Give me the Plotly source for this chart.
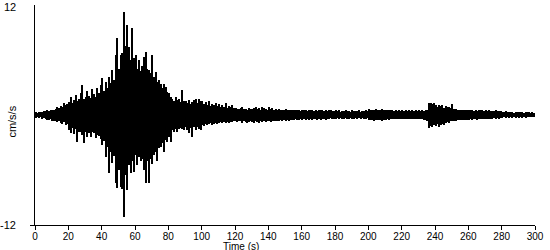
import plotly.graph_objects as go

# Start of each one-second column (s) and its width
time_start = 0
time_step = 1

# Per-second maximum acceleration (cm/s/s)
upper_0_19 = [0.3, 0.2, 0.3, 0.3, 0.3, 0.4, 0.4, 0.5, 0.4, 0.6, 0.6, 0.5, 0.7, 0.9, 0.8, 1.0, 0.9, 1.3, 1.1, 1.2]
upper_20_39 = [1.4, 2.0, 1.3, 1.6, 2.2, 1.5, 1.8, 2.4, 3.3, 1.7, 2.0, 2.6, 2.1, 1.9, 2.8, 2.3, 2.0, 3.0, 2.4, 3.3]
upper_40_59 = [4.0, 2.6, 3.6, 3.0, 4.2, 3.5, 4.9, 3.8, 6.5, 8.4, 5.0, 6.5, 6.8, 11.2, 7.5, 9.8, 7.4, 6.0, 9.5, 6.2]
upper_60_79 = [6.5, 5.0, 6.0, 4.8, 5.3, 6.3, 6.9, 5.0, 4.9, 4.6, 6.5, 4.2, 4.7, 3.6, 3.8, 3.4, 2.9, 3.4, 3.1, 2.5]
upper_80_99 = [2.4, 2.0, 1.8, 1.5, 2.0, 1.6, 1.7, 1.4, 2.7, 1.5, 1.5, 1.3, 1.6, 1.2, 1.4, 1.6, 1.8, 1.3, 1.8, 1.5]
upper_100_119 = [1.5, 1.2, 1.4, 1.1, 1.5, 1.0, 1.2, 1.1, 1.3, 1.0, 1.2, 0.9, 1.1, 0.9, 1.3, 0.8, 1.0, 0.9, 1.1, 0.8]
upper_120_139 = [0.8, 0.7, 0.7, 0.8, 0.9, 0.7, 0.7, 0.6, 0.8, 0.7, 0.7, 0.8, 0.9, 0.7, 0.8, 0.6, 0.9, 0.8, 0.7, 0.6]
upper_140_159 = [0.9, 0.7, 0.8, 0.6, 0.7, 0.6, 0.7, 0.5, 0.6, 0.6, 0.7, 0.5, 0.6, 0.5, 0.5, 0.6, 0.6, 0.5, 0.5, 0.4]
upper_160_179 = [0.6, 0.5, 0.5, 0.4, 0.6, 0.5, 0.6, 0.4, 0.5, 0.4, 0.6, 0.5, 0.5, 0.4, 0.5, 0.4, 0.5, 0.5, 0.4, 0.4]
upper_180_199 = [0.5, 0.4, 0.5, 0.3, 0.4, 0.4, 0.5, 0.4, 0.4, 0.3, 0.5, 0.4, 0.4, 0.4, 0.5, 0.3, 0.4, 0.4, 0.5, 0.4]
upper_200_219 = [0.7, 0.5, 0.6, 0.5, 0.7, 0.5, 0.6, 0.5, 0.7, 0.5, 0.6, 0.5, 0.6, 0.5, 0.55, 0.45, 0.5, 0.45, 0.55, 0.4]
upper_220_239 = [0.5, 0.45, 0.55, 0.4, 0.5, 0.45, 0.5, 0.4, 0.55, 0.45, 0.5, 0.4, 0.5, 0.45, 0.6, 0.5, 1.3, 1.3, 1.2, 1.3]
upper_240_259 = [1.1, 0.9, 1.1, 1.0, 1.1, 0.8, 1.0, 0.9, 0.9, 0.8, 1.2, 0.7, 0.7, 0.6, 0.55, 0.5, 0.6, 0.5, 0.55, 0.5]
upper_260_279 = [0.55, 0.5, 0.5, 0.45, 0.55, 0.45, 0.5, 0.5, 0.55, 0.45, 0.5, 0.4, 0.5, 0.45, 0.45, 0.4, 0.5, 0.45, 0.45, 0.4]
upper_280_299 = [0.35, 0.3, 0.4, 0.3, 0.35, 0.3, 0.35, 0.25, 0.3, 0.3, 0.35, 0.3, 0.3, 0.25, 0.35, 0.3, 0.3, 0.25, 0.3, 0.2]

# Per-second minimum acceleration (cm/s/s)
lower_0_19 = [-0.3, -0.2, -0.3, -0.2, -0.4, -0.3, -0.4, -0.5, -0.5, -0.4, -0.6, -0.7, -0.6, -0.8, -0.6, -0.9, -1.0, -0.8, -1.1, -1.0]
lower_20_39 = [-1.6, -2.0, -1.4, -2.1, -1.5, -2.9, -1.8, -1.9, -2.2, -3.0, -1.8, -2.4, -2.0, -2.4, -1.9, -2.0, -2.5, -2.2, -2.3, -2.6]
lower_40_59 = [-3.3, -2.8, -4.6, -3.5, -6.3, -4.0, -5.2, -4.5, -7.4, -8.0, -6.0, -7.8, -8.1, -11.1, -6.5, -8.2, -5.5, -6.3, -5.0, -6.2]
lower_60_79 = [-4.4, -5.5, -4.6, -5.0, -4.8, -6.0, -7.4, -5.0, -7.4, -4.8, -5.3, -4.4, -4.0, -5.0, -3.6, -3.5, -3.0, -4.0, -2.7, -2.9]
lower_80_99 = [-2.4, -2.9, -1.6, -1.8, -1.5, -1.8, -1.5, -1.4, -1.5, -1.6, -1.3, -1.6, -2.0, -1.4, -2.4, -1.3, -1.6, -1.3, -1.5, -1.6]
lower_100_119 = [-1.1, -1.2, -1.0, -1.1, -1.0, -0.9, -1.1, -1.0, -0.9, -1.0, -0.9, -0.8, -0.9, -0.8, -0.9, -0.8, -0.9, -0.8, -0.8, -0.7]
lower_120_139 = [-0.7, -0.8, -0.7, -0.7, -0.9, -0.7, -0.8, -0.9, -0.8, -0.7, -0.8, -0.9, -0.7, -0.8, -0.9, -0.7, -0.8, -0.7, -0.8, -0.7]
lower_140_159 = [-0.7, -0.8, -0.6, -0.7, -0.6, -0.7, -0.6, -0.5, -0.6, -0.5, -0.6, -0.5, -0.6, -0.5, -0.5, -0.5, -0.4, -0.5, -0.5, -0.4]
lower_160_179 = [-0.5, -0.4, -0.5, -0.4, -0.5, -0.4, -0.5, -0.4, -0.4, -0.5, -0.4, -0.5, -0.4, -0.4, -0.5, -0.4, -0.4, -0.3, -0.4, -0.4]
lower_180_199 = [-0.4, -0.3, -0.4, -0.3, -0.4, -0.4, -0.3, -0.4, -0.4, -0.3, -0.4, -0.4, -0.3, -0.4, -0.3, -0.4, -0.3, -0.4, -0.4, -0.3]
lower_200_219 = [-0.5, -0.55, -0.5, -0.6, -0.5, -0.5, -0.55, -0.5, -0.6, -0.5, -0.5, -0.45, -0.5, -0.45, -0.45, -0.4, -0.45, -0.4, -0.45, -0.4]
lower_220_239 = [-0.45, -0.4, -0.45, -0.4, -0.45, -0.4, -0.45, -0.4, -0.45, -0.4, -0.45, -0.4, -0.45, -0.5, -0.5, -0.6, -1.45, -1.2, -1.3, -1.1]
lower_240_259 = [-1.2, -1.0, -1.3, -1.1, -1.0, -1.1, -0.9, -0.8, -0.9, -0.7, -0.7, -0.6, -0.6, -0.55, -0.55, -0.5, -0.55, -0.5, -0.55, -0.5]
lower_260_279 = [-0.5, -0.45, -0.5, -0.45, -0.45, -0.5, -0.45, -0.4, -0.45, -0.4, -0.45, -0.4, -0.45, -0.4, -0.4, -0.35, -0.4, -0.35, -0.4, -0.35]
lower_280_299 = [-0.3, -0.25, -0.3, -0.25, -0.3, -0.25, -0.3, -0.25, -0.3, -0.25, -0.3, -0.25, -0.3, -0.25, -0.3, -0.25, -0.25, -0.2, -0.25, -0.2]

x_ticks = [0, 20, 40, 60, 80, 100, 120, 140, 160, 180, 200, 220, 240, 260, 280, 300]
y_range = [-12, 12]
y_tick_labels = ["12", "-12"]
x_title = "Time (s)"
y_title = "cm/s/s"

upper = (upper_0_19 + upper_20_39 + upper_40_59 + upper_60_79 + upper_80_99 +
         upper_100_119 + upper_120_139 + upper_140_159 + upper_160_179 +
         upper_180_199 + upper_200_219 + upper_220_239 + upper_240_259 +
         upper_260_279 + upper_280_299)
lower = (lower_0_19 + lower_20_39 + lower_40_59 + lower_60_79 + lower_80_99 +
         lower_100_119 + lower_120_139 + lower_140_159 + lower_160_179 +
         lower_180_199 + lower_200_219 + lower_220_239 + lower_240_259 +
         lower_260_279 + lower_280_299)
centers = [time_start + (i + 0.5) * time_step for i in range(len(upper))]
spans = [u - l for u, l in zip(upper, lower)]

font = dict(family="Liberation Sans, Arial, sans-serif", size=11, color="black")
small_font = dict(family="Liberation Sans, Arial, sans-serif", size=10, color="black")

fig = go.Figure()
fig.add_trace(go.Bar(x=centers, y=spans, base=lower, width=time_step,
                     marker=dict(color="black", line=dict(width=0)),
                     hoverinfo="skip"))

fig.update_layout(
    width=550, height=250,
    margin=dict(l=35, r=15, t=5, b=25),
    paper_bgcolor="white", plot_bgcolor="white",
    showlegend=False, bargap=0,
    font=font,
    xaxis=dict(range=[0, 300], tickvals=x_ticks, ticks="outside", ticklen=4,
               tickwidth=1, tickcolor="black", showline=True, linecolor="black",
               linewidth=1, showgrid=False, zeroline=False, fixedrange=True,
               tickfont=small_font, ticklabelstandoff=-2),
    yaxis=dict(range=y_range, tickvals=[y_range[0]], ticks="outside", ticklen=4,
               tickwidth=1, tickcolor="black", showline=True, linecolor="black",
               linewidth=1, showgrid=False, zeroline=False, fixedrange=True,
               showticklabels=False),
    annotations=[
        dict(text=y_tick_labels[0], xref="paper", yref="y", x=0, y=y_range[1],
             xshift=-17, yshift=-2, showarrow=False, font=font,
             xanchor="right", yanchor="middle"),
        dict(text=y_tick_labels[1], xref="paper", yref="y", x=0, y=y_range[0],
             xshift=-17, showarrow=False, font=font,
             xanchor="right", yanchor="middle"),
        dict(text=x_title, xref="paper", yref="paper", x=0.412, y=0, yshift=-14,
             showarrow=False, font=small_font, xanchor="center", yanchor="top"),
        dict(text=y_title, xref="paper", yref="paper", x=0, xshift=-23, y=0.47,
             textangle=-90, showarrow=False, font=font, xanchor="center", yanchor="middle"),
    ],
)

fig.write_html("out.html")
